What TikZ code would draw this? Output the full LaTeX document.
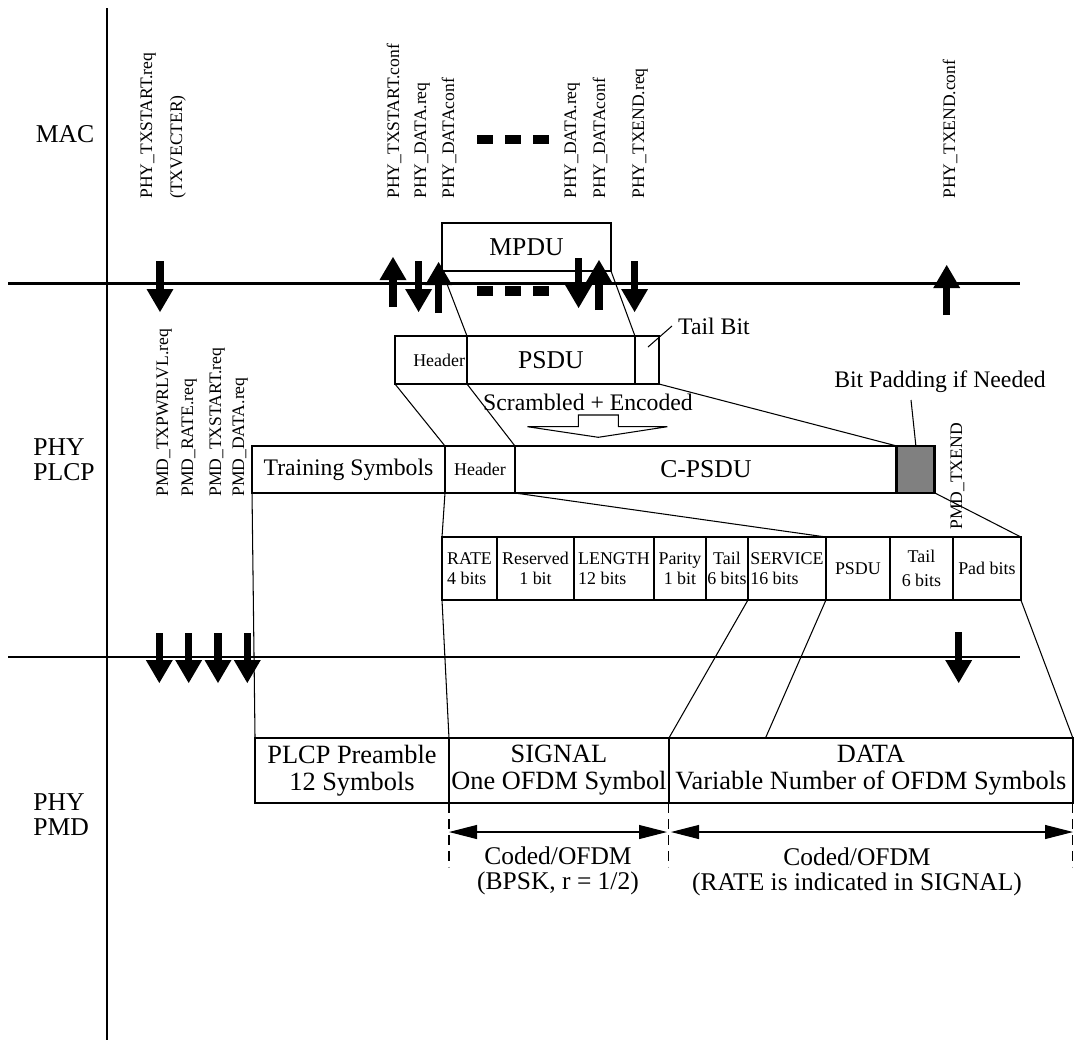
\documentclass[tikz,border=0pt]{standalone}
\usepackage{fontspec}
\setmainfont{Liberation Serif}
\usetikzlibrary{arrows.meta,positioning}

\begin{document}
\begin{tikzpicture}[x=0.02cm,y=-0.02cm,
    caja/.style={draw,line width=1.6pt,inner sep=0pt,outer sep=0pt,minimum height=0.96cm},
    campo/.style={draw,line width=0.8pt,inner sep=0pt,outer sep=0pt,minimum height=1.26cm,font=\fontsize{10.2}{11}\selectfont},
    bloque/.style={draw,line width=0.8pt,inner sep=0pt,outer sep=0pt,minimum height=1.3cm,align=center,font=\fontsize{15}{15.3}\selectfont},
    eje/.style={line width=1.6pt},
    enlace/.style={line width=0.6pt},
    flecha/.style={line width=0.145cm,-{Triangle[width=0.54cm,length=0.46cm,line width=0pt]}},
    cota/.style={line width=0.6pt,{Triangle[width=0.28cm,length=0.56cm]}-{Triangle[width=0.28cm,length=0.56cm]}},
    marca/.style={line width=0.6pt,dash pattern=on 0.2cm off 0.12cm},
    vlabel/.style={rotate=90,anchor=mid west,inner sep=0pt,font=\fontsize{10}{12}\selectfont},
    grande/.style={font=\fontsize{14.6}{14.2}\selectfont},
    media/.style={font=\fontsize{13.5}{15}\selectfont},
    chica/.style={font=\fontsize{10.2}{12}\selectfont},
    nota/.style={align=center,font=\fontsize{14.5}{14.6}\selectfont}]

    \useasboundingbox (0,0) rectangle (1075,1042);

    % Ejes de las capas
    \draw[eje] (107,8) -- (107,1040);
    \draw[eje] (8,283.5) -- (1020,283.5);
    \draw[eje] (8,657) -- (1020,657);

    \node[grande] (mac) at (65,134) {MAC};
    \node[grande,align=left,anchor=west,inner sep=0pt] (plcp) at (33,460) {PHY\\PLCP};
    \node[grande,align=left,anchor=west,inner sep=0pt] (pmd) at (33,815) {PHY\\PMD};

    % Primitivas MAC - PHY
    \foreach \x/\t [count=\i] in {148/PHY\_TXSTART.req, 178/(TXVECTER), 395/PHY\_TXSTART.conf,
        422/PHY\_DATA.req, 450/PHY\_DATAconf, 572/PHY\_DATA.req, 601/PHY\_DATAconf,
        640/PHY\_TXEND.req, 951/PHY\_TXEND.conf}
        \node[vlabel] (p\i) at (\x,199) {\t};

    % Primitivas PLCP - PMD
    \foreach \x/\t [count=\i] in {164/PMD\_TXPWRLVL.req, 189/PMD\_RATE.req,
        217/PMD\_TXSTART.req, 240/PMD\_DATA.req}
        \node[vlabel] (q\i) at (\x,497) {\t};
    \node[vlabel] (txend) at (958,530) {PMD\_TXEND};

    % Flechas gruesas
    \foreach \x/\a/\b in {160/261/312, 418.6/261/312, 578.6/258/308, 634.6/261/312,
        393/307/257, 438.6/313/262, 599/310/260, 946.7/315/265,
        159.3/633/683, 188.7/633/683, 218/633/683, 247.3/633/683, 958.7/632/683}
        \draw[flecha] (\x,\a) -- (\x,\b);

    % Puntos suspensivos
    \foreach \x in {477,505,533} {
        \fill (\x,135) rectangle ++(16,9);
        \fill (\x,286) rectangle ++(16,10);
    }

    % MPDU y PSDU
    \node[caja,minimum width=3.38cm,grande] (mpdu) at (526.5,247) {MPDU};
    \node[caja,minimum width=1.44cm,chica,text width=1.36cm,align=right] (hdr) at (431,360) {Header};
    \node[caja,minimum width=3.36cm,grande,right=0pt of hdr] (psdu) {PSDU};
    \node[caja,minimum width=0.48cm,right=0pt of psdu] (tail) {};

    \draw[enlace] (mpdu.south west) -- (psdu.north west);
    \draw[enlace] (mpdu.south east) -- (psdu.north east);

    \node[media,anchor=west] (tbit) at (672,326) {Tail Bit};
    \coordinate (tb) at (648,347);
    \draw[enlace] (tb) -- (tbit.west);

    % Codificacion
    \node[media] (scr) at (588,402) {Scrambled + Encoded};
    \draw[line width=0.6pt] (527.5,426.7) -- (578.3,426.7) -- (578.3,415) -- (618.3,415)
        -- (618.3,426.7) -- (667.3,426.7) -- (598.3,437.3) -- cycle;

    % Trama PLCP
    \node[caja,minimum width=3.86cm,minimum height=0.94cm,media] (train) at (348.5,469.5) {Training Symbols};
    \node[caja,minimum width=1.4cm,minimum height=0.94cm,chica,right=0pt of train] (hdrb) {Header};
    \node[caja,minimum width=7.64cm,minimum height=0.94cm,grande,right=0pt of hdrb] (cpsdu) {C-PSDU};
    \node[caja,minimum width=0.76cm,minimum height=0.94cm,fill=gray,right=0pt of cpsdu] (pad) {};

    \draw[enlace] (hdr.south west) -- (train.north east);
    \draw[enlace] (hdr.south east) -- (cpsdu.north west);
    \draw[enlace] (tail.south east) -- (cpsdu.north east);

    \node[media] (bpad) at (940,382) {Bit Padding if Needed};
    \coordinate (bp) at (911,400);
    \draw[enlace] (bp) -- (pad.north);

    % Campos
    \node[campo,minimum width=1.1cm,align=left] (f1) at (469.5,568.5) {RATE\\4 bits};
    \node[campo,minimum width=1.54cm,align=center,right=0pt of f1] (f2) {Reserved\\1 bit};
    \node[campo,minimum width=1.6cm,align=left,right=0pt of f2] (f3) {LENGTH\\12 bits};
    \node[campo,minimum width=1.04cm,align=center,right=0pt of f3] (f4) {Parity\\1 bit};
    \node[campo,minimum width=0.84cm,align=center,right=0pt of f4] (f5) {Tail\\6 bits};
    \node[campo,minimum width=1.56cm,align=left,right=0pt of f5] (f6) {SERVICE\\16 bits};
    \node[campo,minimum width=1.28cm,right=0pt of f6] (f7) {PSDU};
    \node[campo,minimum width=1.26cm,align=center,right=0pt of f7] (f8) {Tail\\[3pt]6 bits};
    \node[campo,minimum width=1.36cm,right=0pt of f8] (f9) {Pad bits};

    \draw[enlace] (train.south east) -- (f1.north west);
    \draw[enlace] (hdrb.south east) -- (f6.north east);
    \draw[enlace] (pad.south east) -- (f9.north east);

    % Trama PMD
    \node[bloque,minimum width=3.88cm] (pre) at (352,770.5) {PLCP Preamble\\12 Symbols};
    \node[bloque,minimum width=4.4cm,right=0pt of pre] (sig) {SIGNAL\\One OFDM Symbol};
    \node[bloque,minimum width=8.08cm,right=0pt of sig] (dat) {DATA\\Variable Number of OFDM Symbols};

    \coordinate (dt) at (765.5,738);
    \draw[enlace] (train.south west) -- (pre.north west);
    \draw[enlace] (f1.south west) -- (sig.north west);
    \draw[enlace] (f5.south east) -- (sig.north east);
    \draw[enlace] (f6.south east) -- (dt);
    \draw[enlace] (f9.south east) -- (dat.north east);

    % Cotas
    \foreach \n in {sig.south west, sig.south east, dat.south east}
        \draw[marca] (\n) -- ++(0,64);
    \coordinate (c1) at (449,832);
    \coordinate (c2) at (667,832);
    \coordinate (c3) at (671,832);
    \coordinate (c4) at (1073,832);
    \draw[cota] (c1) -- (c2);
    \draw[cota] (c3) -- (c4);

    \node[nota] (cod1) at (558,871) {Coded/OFDM\\(BPSK, r = 1/2)};
    \node[nota] (cod2) at (857,872) {Coded/OFDM\\(RATE is indicated in SIGNAL)};

\end{tikzpicture}
\end{document}
